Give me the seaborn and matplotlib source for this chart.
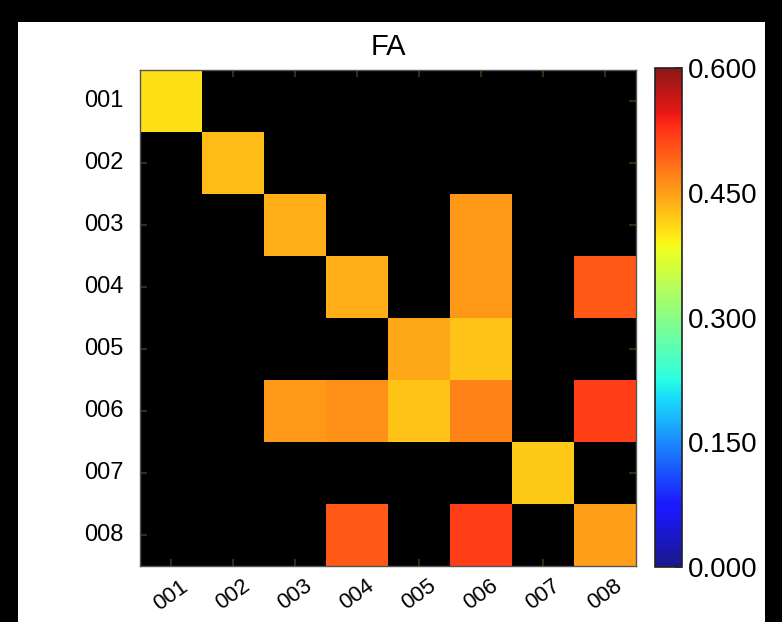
import matplotlib
matplotlib.use("Agg")
import matplotlib.pyplot as plt
from matplotlib.colors import ListedColormap
from matplotlib.patches import Rectangle
import numpy as np
import pandas as pd
import seaborn as sns

labels = ["001", "002", "003", "004", "005", "006", "007", "008"]

# FA values per (row, column); 0 = no connection (drawn black)
row_001 = [0.405, 0, 0, 0, 0, 0, 0, 0]
row_002 = [0, 0.430, 0, 0, 0, 0, 0, 0]
row_003 = [0, 0, 0.440, 0, 0, 0.455, 0, 0]
row_004 = [0, 0, 0, 0.440, 0, 0.455, 0, 0.500]
row_005 = [0, 0, 0, 0, 0.445, 0.425, 0, 0]
row_006 = [0, 0, 0.455, 0.460, 0.425, 0.470, 0, 0.520]
row_007 = [0, 0, 0, 0, 0, 0, 0.420, 0]
row_008 = [0, 0, 0, 0.500, 0, 0.520, 0, 0.450]

cbar_ticks = [0.0, 0.15, 0.30, 0.45, 0.60]

fa = pd.DataFrame([row_001, row_002, row_003, row_004,
                   row_005, row_006, row_007, row_008],
                  index=labels, columns=labels)

# jet, slightly washed out like the screenshot
jet = plt.get_cmap("jet")(np.linspace(0, 1, 256))
jet[:, :3] = jet[:, :3] * 0.9 + 0.1 * np.array([1.0, 0.95, 0.9])
cmap = ListedColormap(jet)

sns.set_style("white")
plt.rcParams["font.family"] = ["Liberation Sans", "DejaVu Sans"]
plt.rcParams["text.color"] = "black"
plt.rcParams["xtick.labelcolor"] = "black"
plt.rcParams["ytick.labelcolor"] = "black"

fig = plt.figure(figsize=(7.82, 6.22), dpi=100, facecolor="black")
# white panel inside the black screenshot frame
fig.patches.append(Rectangle((18 / 782, 0), (765 - 18) / 782, (622 - 22) / 622,
                             transform=fig.transFigure, facecolor="white",
                             edgecolor="none", zorder=-10))

ax = fig.add_axes([140 / 782, 56 / 622, 496 / 782, 496 / 622])
cax = fig.add_axes([655 / 782, 55 / 622, 27 / 782, 499 / 622])

ax.set_facecolor("black")
sns.heatmap(fa, mask=(fa == 0), cmap=cmap, vmin=0, vmax=0.6, ax=ax,
            cbar_ax=cax, square=False, linewidths=0,
            cbar_kws={"ticks": cbar_ticks, "format": "%.3f"})

ax.set_title("FA", fontsize=21, pad=11, color="black")
ax.tick_params(axis="both", direction="in", length=5, width=1.5, color="#3a2a10",
               top=True, right=True, bottom=True, left=True, labelcolor="black")
ax.tick_params(axis="x", pad=7)
ax.tick_params(axis="y", pad=12)
ax.set_xticklabels(labels, rotation=36, ha="center", va="top", fontsize=16)
ax.set_yticklabels(labels, rotation=0, fontsize=17)
for s in ax.spines.values():
    s.set_visible(True)
    s.set_color("#555555")
    s.set_linewidth(1)

cax.tick_params(direction="in", length=5, width=1.2, color="#333333",
                labelsize=20, pad=4, labelcolor="black")
cbar = ax.collections[0].colorbar
cbar.outline.set_visible(True)
cbar.outline.set_edgecolor("#222222")
cbar.outline.set_linewidth(1.2)

fig.savefig("out.png", dpi=100, facecolor=fig.get_facecolor())
